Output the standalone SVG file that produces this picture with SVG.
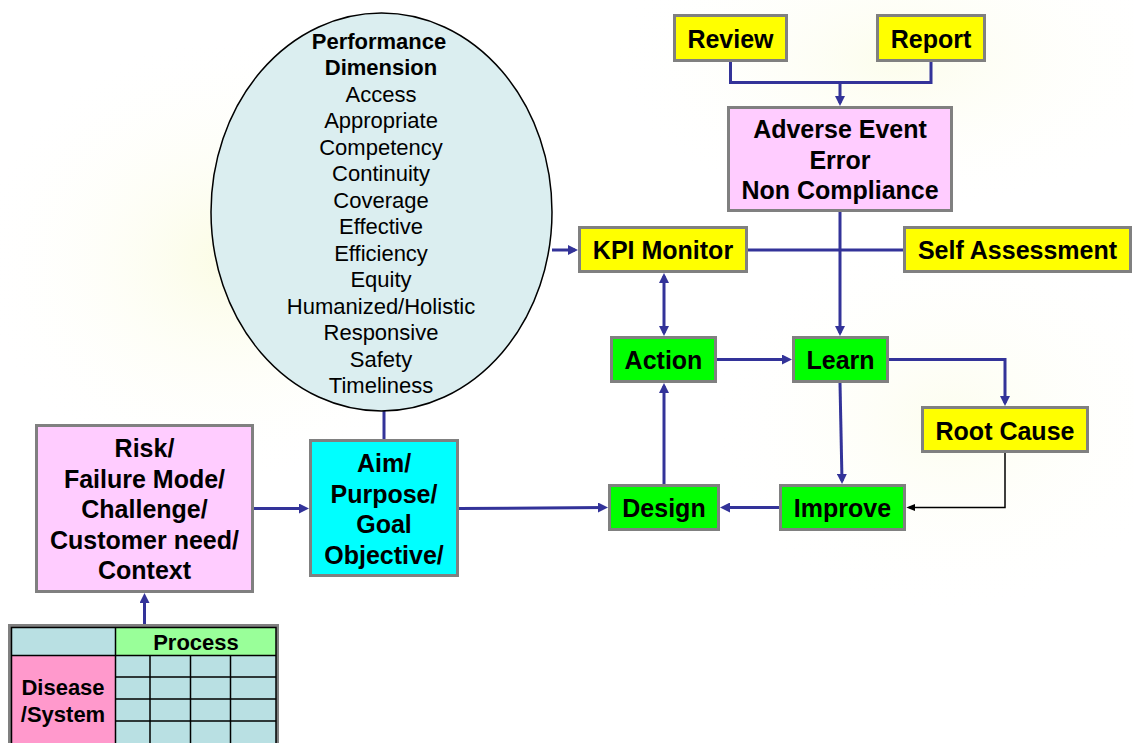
<svg xmlns="http://www.w3.org/2000/svg" width="1134" height="743" viewBox="0 0 1134 743">
<defs>
<radialGradient id="bg1" cx="0.5" cy="0.5" r="0.5">
<stop offset="0" stop-color="#fbfce4"/>
<stop offset="1" stop-color="#ffffff" stop-opacity="0"/>
</radialGradient>
<marker id="ab" markerUnits="userSpaceOnUse" markerWidth="10" markerHeight="10" refX="7" refY="5" orient="auto-start-reverse" viewBox="0 0 10 10">
<path d="M0,0 L10,5 L0,10 z" fill="#333399"/>
</marker>
<marker id="ak" markerUnits="userSpaceOnUse" markerWidth="9" markerHeight="9" refX="7" refY="5" orient="auto" viewBox="0 0 10 10">
<path d="M0,1 L10,5 L0,9 z" fill="#000000"/>
</marker>
</defs>
<style>
.box{stroke:#808080;stroke-width:3}
.yel{fill:#ffff00}
.grn{fill:#00ff00}
.pnk{fill:#ffccff}
.cyn{fill:#00ffff}
.t{font-family:"Liberation Sans",Arial,sans-serif;font-weight:bold;font-size:25px;fill:#000;text-anchor:middle}
.e{font-family:"Liberation Sans",Arial,sans-serif;font-size:22px;fill:#000;text-anchor:middle}
.tb{font-family:"Liberation Sans",Arial,sans-serif;font-weight:bold;font-size:22px;fill:#000;text-anchor:middle}
.c{fill:none;stroke:#333399;stroke-width:3}
.ca{fill:none;stroke:#333399;stroke-width:3;marker-end:url(#ab)}
.cell{fill:#b9e0e3}
.gl{stroke:#000;stroke-width:1.5;fill:none}
</style>
<rect x="0" y="0" width="1134" height="743" fill="#ffffff"/>
<ellipse cx="230" cy="260" rx="260" ry="230" fill="url(#bg1)"/>
<ellipse cx="900" cy="60" rx="300" ry="160" fill="url(#bg1)" opacity="0.7"/>
<ellipse cx="950" cy="420" rx="250" ry="200" fill="url(#bg1)" opacity="0.6"/>

<g id="connectors">
<path class="c" d="M730.5,62 V82.5 H931 V62"/>
<path class="ca" d="M840,82.5 V103"/>
<path class="ca" d="M552,250 H575"/>
<path class="c" d="M748,250 H903"/>
<path class="ca" d="M840,212 V333"/>
<path class="ca" d="M664,276 V333" marker-start="url(#ab)"/>
<path class="ca" d="M717,359.5 H789"/>
<path class="ca" d="M889,359.5 H1005 V403"/>
<path class="ca" d="M840,383 L842,481"/>
<path d="M1005,453 V507.5 H909" fill="none" stroke="#000" stroke-width="1.5" marker-end="url(#ak)"/>
<path class="ca" d="M779,507.5 H723"/>
<path class="ca" d="M664,484 V386"/>
<path class="ca" d="M459,508.5 L605,507.5"/>
<path class="ca" d="M254,508.5 H306"/>
<path class="c" d="M384,411 V439"/>
<path class="ca" d="M144.5,624 V596"/>
</g>

<g id="performance-dimension">
<ellipse cx="381.5" cy="212" rx="170.5" ry="199" fill="#dbeef0" stroke="#000" stroke-width="1.5"/>
<text class="tb" x="379" y="48.5">Performance</text>
<text class="tb" x="381" y="75">Dimension</text>
<text class="e" x="381" y="101.5">Access</text>
<text class="e" x="381" y="128">Appropriate</text>
<text class="e" x="381" y="154.5">Competency</text>
<text class="e" x="381" y="181">Continuity</text>
<text class="e" x="381" y="207.5">Coverage</text>
<text class="e" x="381" y="234">Effective</text>
<text class="e" x="381" y="260.5">Efficiency</text>
<text class="e" x="381" y="287">Equity</text>
<text class="e" x="381" y="313.5">Humanized/Holistic</text>
<text class="e" x="381" y="340">Responsive</text>
<text class="e" x="381" y="366.5">Safety</text>
<text class="e" x="381" y="393">Timeliness</text>
</g>

<g id="review">
<rect class="box yel" x="674.5" y="15.5" width="112" height="45"/>
<text class="t" x="730.5" y="47.5">Review</text>
</g>
<g id="report">
<rect class="box yel" x="877.5" y="15.5" width="107" height="45"/>
<text class="t" x="931" y="47.5">Report</text>
</g>
<g id="adverse-event">
<rect class="box pnk" x="728.5" y="107.5" width="223" height="103"/>
<text class="t" x="840" y="138">Adverse Event</text>
<text class="t" x="840" y="168.5">Error</text>
<text class="t" x="840" y="199">Non Compliance</text>
</g>
<g id="kpi-monitor">
<rect class="box yel" x="579.5" y="227.5" width="167" height="44"/>
<text class="t" x="663" y="259">KPI Monitor</text>
</g>
<g id="self-assessment">
<rect class="box yel" x="904.5" y="227.5" width="226" height="44"/>
<text class="t" x="1017.5" y="259">Self Assessment</text>
</g>
<g id="action">
<rect class="box grn" x="611.5" y="337.5" width="104" height="44"/>
<text class="t" x="663.5" y="369">Action</text>
</g>
<g id="learn">
<rect class="box grn" x="793.5" y="337.5" width="94" height="44"/>
<text class="t" x="840.5" y="369">Learn</text>
</g>
<g id="root-cause">
<rect class="box yel" x="922.5" y="407.5" width="165" height="44"/>
<text class="t" x="1005" y="440">Root Cause</text>
</g>
<g id="design">
<rect class="box grn" x="609.5" y="485.5" width="109" height="44"/>
<text class="t" x="664" y="517">Design</text>
</g>
<g id="improve">
<rect class="box grn" x="780.5" y="485.5" width="124" height="44"/>
<text class="t" x="842.5" y="517">Improve</text>
</g>
<g id="risk">
<rect class="box pnk" x="36.5" y="425.5" width="216" height="166"/>
<text class="t" x="144.5" y="457">Risk/</text>
<text class="t" x="144.5" y="487.5">Failure Mode/</text>
<text class="t" x="144.5" y="518">Challenge/</text>
<text class="t" x="144.5" y="548.5">Customer need/</text>
<text class="t" x="144.5" y="579">Context</text>
</g>
<g id="aim">
<rect class="box cyn" x="310.5" y="440.5" width="147" height="135"/>
<text class="t" x="384" y="472">Aim/</text>
<text class="t" x="384" y="502.5">Purpose/</text>
<text class="t" x="384" y="533">Goal</text>
<text class="t" x="384" y="563.5">Objective/</text>
</g>

<g id="process-table">
<rect x="9.5" y="625.5" width="268" height="125" fill="none" stroke="#808080" stroke-width="3"/>
<rect class="cell" x="11" y="627" width="104.5" height="28.5"/>
<rect x="115.5" y="627" width="160.5" height="28.5" fill="#99ff99"/>
<rect x="11" y="655.5" width="104.5" height="90" fill="#ff99cc"/>
<rect class="cell" x="115.5" y="655.5" width="160.5" height="90"/>
<rect class="gl" x="11.5" y="627.5" width="264.5" height="120"/>
<path class="gl" d="M115.5,627 V745 M11,655.5 H276 M150,655.5 V745 M190.5,655.5 V745 M230.5,655.5 V745 M115.5,677 H276 M115.5,699 H276 M115.5,721 H276"/>
<text class="tb" x="196" y="650">Process</text>
<text class="tb" x="63" y="694.5">Disease</text>
<text class="tb" x="63" y="722">/System</text>
</g>
</svg>
